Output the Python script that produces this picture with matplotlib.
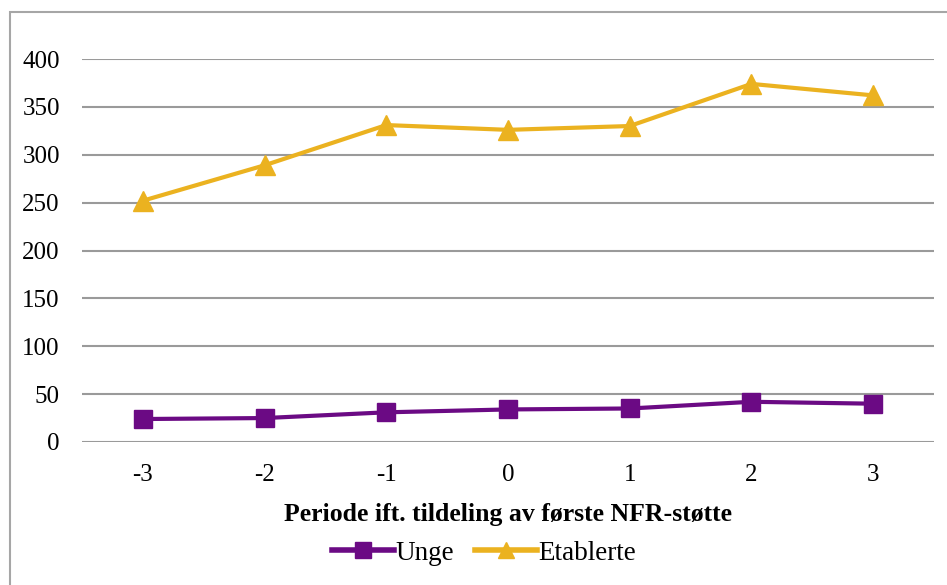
import matplotlib
matplotlib.use("Agg")
import matplotlib.pyplot as plt
from matplotlib.patches import Rectangle

periods = ["-3", "-2", "-1", "0", "1", "2", "3"]
unge = [24, 25, 31, 34, 35, 42, 40]
etablerte = [252, 289, 331, 326, 330, 374, 362]
yticks = [0, 50, 100, 150, 200, 250, 300, 350, 400]

plt.rcParams['font.family'] = ['Liberation Serif', 'DejaVu Serif']

fig = plt.figure(figsize=(9.47, 5.85), dpi=100)
fig.patches.append(Rectangle((10/947, -0.1), 1.2, 1 - 12/585 + 0.1, transform=fig.transFigure,
                             fill=False, edgecolor='#a6a6a6', linewidth=1.5))
ax = fig.add_axes([82/947, 1 - 442/585, (934 - 82)/947, (442 - 59)/585])

x = list(range(len(periods)))
ax.plot(x, unge, color='#6b0a84', linewidth=3, marker='s', markersize=13, label='Unge', zorder=3)
ax.plot(x, etablerte, color='#ebb220', linewidth=3, marker='^', markersize=14, label='Etablerte', zorder=3)

ax.set_xlim(-0.5, 6.5)
ax.set_ylim(0, 400)
ax.set_yticks(yticks)
ax.set_xticks(x)
ax.set_xticklabels(periods)
ax.grid(axis='y', color='#9a9a9a', linewidth=1.5)
ax.set_axisbelow(True)
for s in ax.spines.values():
    s.set_visible(False)
ax.tick_params(axis='both', length=0, labelsize=18, colors='black')
ax.tick_params(axis='x', pad=16)
ax.tick_params(axis='y', pad=16)
ax.set_xlabel('Periode ift. tildeling av første NFR-støtte', fontsize=18.5, fontweight='bold', labelpad=12)

leg = fig.legend(loc='center', bbox_to_anchor=(484/947, 1 - 553/585), ncol=2, frameon=False,
                 fontsize=19.5, handlelength=2.3, columnspacing=0.75, handletextpad=0.05, markerscale=0.85)
for h in leg.legend_handles:
    h.set_linewidth(4)

fig.savefig('out.png', dpi=100)
